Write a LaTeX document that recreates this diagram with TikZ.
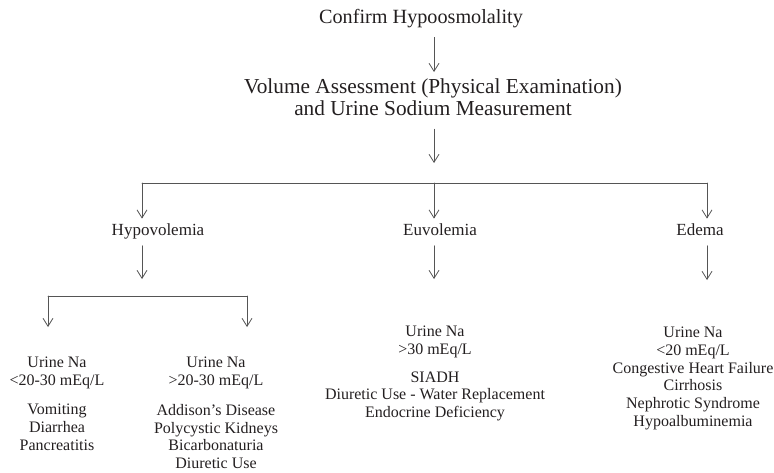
\documentclass[tikz,border=0pt]{standalone}
\usepackage{fontspec}
\setmainfont{Liberation Serif}
\usetikzlibrary{arrows.meta}
\definecolor{txt}{HTML}{231F20}
\definecolor{wire}{HTML}{555555}

\begin{document}
\begin{tikzpicture}[x=1pt,y=-1pt,line cap=round,line join=round,
  wire/.style={draw=wire,line width=.8pt},
  arr/.style={wire,-{Straight Barb[length=8pt,width=10pt]}},
  head/.style={text=txt,inner sep=0pt,align=center},
  lvl/.style={font=\fontsize{17}{20}\selectfont,text=txt,inner sep=0pt,
    text height=.69em,text depth=.22em,anchor=base},
  note/.style={font=\fontsize{16}{17.7}\selectfont,text=txt,inner sep=0pt,
    align=center,anchor=north}]
  \useasboundingbox (0,0) rectangle (774,472);

  % Top: confirmation and assessment
  \node[head,anchor=base,text height=.69em,text depth=.22em,
    font=\fontsize{20.2}{22}\selectfont] (conf) at (421,23) {Confirm Hypoosmolality};
  \node[head,anchor=north,font=\fontsize{21.3}{22}\selectfont] (vol) at (433,79)
    {Volume Assessment (Physical Examination)\\and Urine Sodium Measurement};

  \coordinate (fork) at (434,183);
  \coordinate (forkL) at (142,183);
  \coordinate (forkR) at (707,183);
  \draw[arr,shorten <=12pt,shorten >=7pt] (conf.south -| fork) -- (vol.north -| fork);
  \draw[arr,shorten <=13pt,shorten >=20pt] (vol.south -| fork) -- (fork);

  % Volume status
  \node[lvl] (hypo) at (158,235) {Hypovolemia};
  \node[lvl] (euvo) at (440,235) {Euvolemia};
  \node[lvl] (edema) at (700,235) {Edema};

  \draw[wire] (forkL) -- (forkR);
  \draw[arr,shorten >=9.3pt] (forkL) -- (forkL |- hypo.north);
  \draw[arr,shorten >=9.3pt] (fork) -- (fork |- euvo.north);
  \draw[arr,shorten >=9.3pt] (forkR) -- (forkR |- edema.north);

  % Urine sodium and causes
  \node[note] (lna) at (57,357) {Urine Na\\<20-30 mEq/L};
  \node[note] (lcause) at (57,404) {Vomiting\\Diarrhea\\Pancreatitis};
  \node[note] (rna) at (216,357) {Urine Na\\>20-30 mEq/L};
  \node[note] (rcause) at (216,404)
    {Addison's Disease\\Polycystic Kidneys\\Bicarbonaturia\\Diuretic Use};
  \node[note] (ena) at (435,326) {Urine Na\\>30 mEq/L};
  \node[note] (ecause) at (435,371.4)
    {SIADH\\Diuretic Use - Water Replacement\\Endocrine Deficiency};
  \node[note] (dna) at (693,327) {Urine Na\\<20 mEq/L\\Congestive Heart Failure\\
    Cirrhosis\\Nephrotic Syndrome\\Hypoalbuminemia};

  \coordinate (subL) at (48,296);
  \coordinate (subR) at (247,296);
  \draw[arr,shorten <=8.3pt,shorten >=17pt] (hypo.south -| forkL) -- (forkL |- subL);
  \draw[wire] (subL) -- (subR);
  \draw[arr,shorten >=30pt] (subL) -- (subL |- lna.north);
  \draw[arr,shorten >=30pt] (subR) -- (subR |- rna.north);
  \draw[arr,shorten <=8.3pt,shorten >=47pt] (euvo.south -| fork) -- (fork |- ena.north);
  \draw[arr,shorten <=8.3pt,shorten >=47pt] (edema.south -| forkR) -- (forkR |- dna.north);
\end{tikzpicture}
\end{document}
